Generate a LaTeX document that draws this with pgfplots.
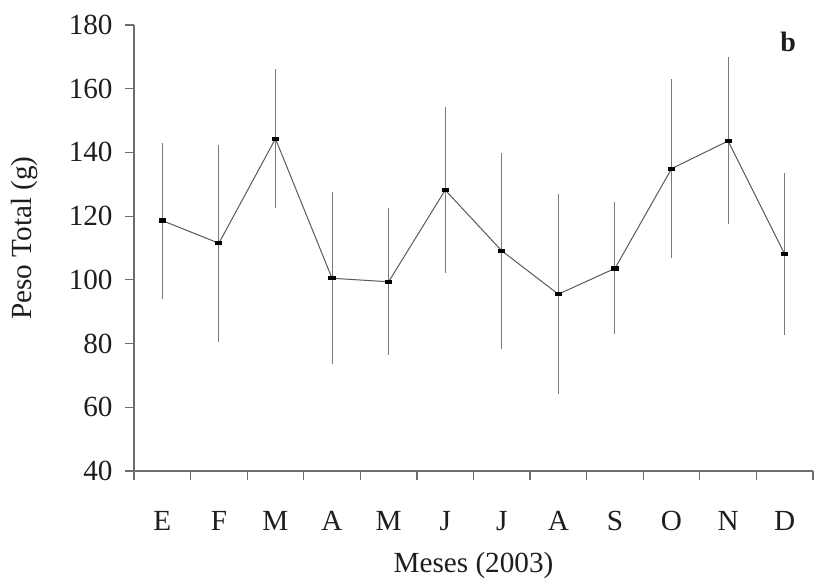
\documentclass[border=0pt]{standalone}
\usepackage{fontspec}
\setmainfont{Liberation Serif}
\usepackage{pgfplots}
\pgfplotsset{compat=1.18}
\usepackage{pgfplotstable}

\pgfplotstableread{
x y err
0 118.6 24.5
1 111.5 30.9
2 144.3 21.8
3 100.5 27.0
4 99.4 23.0
5 128.2 26.0
6 109.1 30.7
7 95.5 31.4
8 103.6 20.7
9 134.9 28.0
10 143.6 26.2
11 108.1 25.3
}\datatable

\definecolor{axisgray}{HTML}{6E6E6E}
\definecolor{linegray}{HTML}{5A5A5A}
\definecolor{errgray}{HTML}{7A7A7A}
\definecolor{txt}{HTML}{1E1E1E}

\begin{document}
\begin{tikzpicture}
\begin{axis}[
  scale only axis, width=339.5pt, height=223pt,
  xmin=-0.5, xmax=11.5, ymin=40, ymax=180,
  axis x line*=bottom, axis y line*=left,
  axis line style={axisgray, line width=0.6pt},
  tick style={axisgray, line width=0.6pt},
  tick align=outside, major tick length=4.5pt,
  xtick={-0.5,0.5,...,11.5},
  xticklabels={E,F,M,A,M,J,J,A,S,O,N,D},
  x tick label as interval,
  ytick={40,60,...,180},
  /pgf/number format/assume math mode=true,
  tick label style={font=\fontsize{14.6}{16}\selectfont, text=txt},
  yticklabel style={anchor=east, inner sep=0pt, xshift=-6pt},
  xticklabel style={anchor=north, inner sep=0pt, yshift=-15.5pt},
  xlabel={Meses (2003)},
  ylabel={Peso Total (g)},
  label style={font=\fontsize{14.6}{16}\selectfont, text=txt},
  xlabel style={at={(axis description cs:0.5,-0.2265)}, anchor=base, inner sep=0pt},
  ylabel style={at={(axis description cs:-0.1605,0.5224)}, anchor=center, inner sep=0pt},
  clip=false,
]
\addplot[linegray, line width=0.5pt, mark=square*, mark size=1.1pt,
  mark options={fill=black, draw=black, xscale=1.4, yscale=0.75},
  error bars/.cd, y dir=both, y explicit, error mark=none,
  error bar style={errgray, line width=0.5pt}]
  table[x=x, y=y, y error=err] {\datatable};
\node[font=\bfseries\fontsize{14}{16}\selectfont, text=txt] at (axis cs:11.06,174.6) {b};
\end{axis}
\path[use as bounding box] (-67pt,-54pt) rectangle (340.5pt,235.5pt);
\end{tikzpicture}
\end{document}
